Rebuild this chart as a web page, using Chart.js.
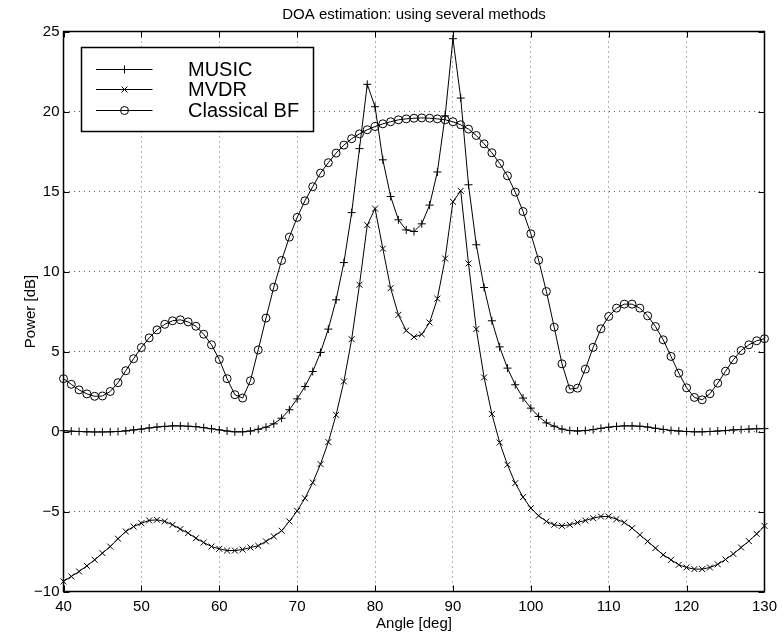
<!DOCTYPE html>
<html>
<head>
<meta charset="utf-8">
<title>DOA estimation</title>
<script src="https://cdn.jsdelivr.net/npm/chart.js@4.4.1/dist/chart.umd.min.js"></script>
<style>
    html, body { margin: 0; padding: 0; background: #fff; }
    #wrap { width: 783px; height: 636px; }
</style>
</head>
<body>
<div id="wrap"><canvas id="doaChart" width="783" height="636"></canvas></div>
<script>
// Chart data
const angles = [
    40, 41, 42, 43, 44, 45, 46, 47, 48, 49,
    50, 51, 52, 53, 54, 55, 56, 57, 58, 59,
    60, 61, 62, 63, 64, 65, 66, 67, 68, 69,
    70, 71, 72, 73, 74, 75, 76, 77, 78, 79,
    80, 81, 82, 83, 84, 85, 86, 87, 88, 89,
    90, 91, 92, 93, 94, 95, 96, 97, 98, 99,
    100, 101, 102, 103, 104, 105, 106, 107, 108, 109,
    110, 111, 112, 113, 114, 115, 116, 117, 118, 119,
    120, 121, 122, 123, 124, 125, 126, 127, 128, 129,
    130
];

const musicDb = [
    0.05, 0.02, 0.0, -0.02, -0.03, -0.03, -0.02, 0.0, 0.04, 0.1,
    0.15, 0.22, 0.28, 0.32, 0.35, 0.35, 0.33, 0.3, 0.24, 0.17,
    0.1, 0.03, -0.02, -0.02, 0.03, 0.14, 0.27, 0.48, 0.83, 1.36,
    2.04, 2.81, 3.75, 4.94, 6.4, 8.23, 10.56, 13.68, 17.68, 21.7,
    20.3, 16.98, 14.69, 13.23, 12.6, 12.5, 12.98, 14.15, 16.22, 19.73,
    24.55, 20.84, 15.42, 11.67, 9.0, 6.92, 5.29, 3.96, 2.92, 2.09,
    1.46, 0.94, 0.54, 0.33, 0.15, 0.06, 0.03, 0.06, 0.12, 0.2,
    0.27, 0.32, 0.35, 0.35, 0.33, 0.28, 0.2, 0.13, 0.07, 0.03,
    0.0, -0.02, -0.02, 0.0, 0.03, 0.06, 0.1, 0.12, 0.15, 0.17,
    0.18
];

const mvdrDb = [
    -9.37, -9.06, -8.75, -8.4, -8.02, -7.6, -7.19, -6.7, -6.25, -5.94,
    -5.73, -5.56, -5.52, -5.62, -5.83, -6.1, -6.35, -6.67, -6.94, -7.19,
    -7.33, -7.44, -7.44, -7.38, -7.25, -7.14, -6.87, -6.56, -6.2, -5.62,
    -4.96, -4.17, -3.19, -2.04, -0.66, 1.04, 3.13, 5.77, 9.17, 12.9,
    13.93, 11.43, 8.96, 7.29, 6.31, 5.9, 6.07, 6.81, 8.3, 10.81,
    14.36, 15.04, 10.5, 6.4, 3.38, 1.09, -0.69, -2.08, -3.23, -4.1,
    -4.79, -5.27, -5.62, -5.83, -5.9, -5.83, -5.69, -5.56, -5.42, -5.31,
    -5.31, -5.48, -5.69, -6.04, -6.46, -6.87, -7.29, -7.71, -8.02, -8.33,
    -8.5, -8.6, -8.6, -8.5, -8.3, -8.0, -7.65, -7.25, -6.85, -6.4,
    -5.9
];

const classicalDb = [
    3.3, 2.95, 2.6, 2.35, 2.2, 2.22, 2.5, 3.05, 3.8, 4.55,
    5.25, 5.85, 6.35, 6.7, 6.92, 6.98, 6.85, 6.58, 6.08, 5.42,
    4.5, 3.3, 2.3, 2.09, 3.17, 5.1, 7.09, 9.02, 10.69, 12.15,
    13.38, 14.42, 15.3, 16.15, 16.8, 17.4, 17.9, 18.3, 18.6, 18.86,
    19.06, 19.23, 19.36, 19.48, 19.54, 19.58, 19.6, 19.58, 19.54, 19.48,
    19.36, 19.17, 18.9, 18.5, 17.98, 17.42, 16.75, 15.98, 14.96, 13.75,
    12.36, 10.71, 8.75, 6.52, 4.23, 2.65, 2.71, 3.9, 5.26, 6.42,
    7.19, 7.71, 7.96, 7.96, 7.71, 7.23, 6.56, 5.73, 4.69, 3.65,
    2.73, 2.13, 1.98, 2.36, 3.02, 3.77, 4.48, 5.06, 5.42, 5.67,
    5.8
];

const seriesNames = ['MUSIC', 'MVDR', 'Classical BF'];
const markerStyles = ['cross', 'crossRot', 'circle'];

const xTicks = [40, 50, 60, 70, 80, 90, 100, 110, 120, 130];
const yTicks = [-10, -5, 0, 5, 10, 15, 20, 25];

const chartTitle = 'DOA estimation: using several methods';
const xTitle = 'Angle [deg]';
const yTitle = 'Power [dB]';

const FONT = '"Liberation Sans", Arial, Helvetica, sans-serif';

// Build points
function toPoints(values) {
    return angles.map((a, i) => ({ x: a, y: values[i] }));
}

function markerRadius(style) {
    return style === 'crossRot' ? 4.2 : 4;
}

function makeDataset(label, values, style) {
    return {
        label: label,
        data: toPoints(values),
        borderColor: '#000',
        borderWidth: 1,
        tension: 0,
        fill: false,
        clip: false,
        pointStyle: style,
        pointRadius: markerRadius(style),
        pointBorderWidth: 1,
        pointBorderColor: '#000',
        pointBackgroundColor: 'rgba(0,0,0,0)'
    };
}

// Matlab-like frame, inward ticks, titles and legend
const matlabFrame = {
    id: 'matlabFrame',
    afterDraw(chart) {
        const ctx = chart.ctx;
        const area = chart.chartArea;
        const xs = chart.scales.x;
        const ys = chart.scales.y;
        const tickLen = 6;

        ctx.save();
        ctx.strokeStyle = '#000';
        ctx.lineWidth = 1;
        ctx.beginPath();
        xTicks.forEach(v => {
            const px = Math.round(xs.getPixelForValue(v)) + 0.5;
            ctx.moveTo(px, area.bottom);
            ctx.lineTo(px, area.bottom - tickLen);
            ctx.moveTo(px, area.top);
            ctx.lineTo(px, area.top + tickLen);
        });
        yTicks.forEach(v => {
            const py = Math.round(ys.getPixelForValue(v)) + 0.5;
            ctx.moveTo(area.left, py);
            ctx.lineTo(area.left + tickLen, py);
            ctx.moveTo(area.right, py);
            ctx.lineTo(area.right - tickLen, py);
        });
        ctx.stroke();

        ctx.lineWidth = 1.5;
        ctx.strokeRect(area.left, area.top, area.right - area.left, area.bottom - area.top);

        // titles
        ctx.fillStyle = '#000';
        ctx.textAlign = 'center';
        ctx.textBaseline = 'middle';
        ctx.font = '15px ' + FONT;
        ctx.fillText(chartTitle, (area.left + area.right) / 2, 15);
        ctx.fillText(xTitle, (area.left + area.right) / 2, 624);
        ctx.save();
        ctx.translate(31, (area.top + area.bottom) / 2);
        ctx.rotate(-Math.PI / 2);
        ctx.fillText(yTitle, 0, 0);
        ctx.restore();

        // legend
        const box = { x: 81.5, y: 47.5, w: 232, h: 84 };
        ctx.fillStyle = '#fff';
        ctx.fillRect(box.x, box.y, box.w, box.h);
        ctx.lineWidth = 1.5;
        ctx.strokeRect(box.x, box.y, box.w, box.h);
        const rows = [69.5, 89.5, 110.5];
        ctx.font = '20px ' + FONT;
        ctx.textAlign = 'left';
        ctx.textBaseline = 'middle';
        seriesNames.forEach((name, i) => {
            const y = rows[i];
            ctx.strokeStyle = '#000';
            ctx.lineWidth = 1;
            ctx.beginPath();
            ctx.moveTo(96, y);
            ctx.lineTo(152.5, y);
            ctx.stroke();
            ctx.fillStyle = 'rgba(0,0,0,0)';
            Chart.helpers.drawPoint(ctx, {
                pointStyle: markerStyles[i],
                radius: markerRadius(markerStyles[i]),
                rotation: 0,
                borderWidth: 1
            }, 124.5, y);
            ctx.fillStyle = '#000';
            ctx.fillText(name, 188, y + 0.5);
        });
        ctx.restore();
    }
};

// Init chart
function initChart() {
    const ctx = document.getElementById('doaChart');
    new Chart(ctx, {
        type: 'line',
        data: {
            datasets: [
                makeDataset(seriesNames[0], musicDb, markerStyles[0]),
                makeDataset(seriesNames[1], mvdrDb, markerStyles[1]),
                makeDataset(seriesNames[2], classicalDb, markerStyles[2])
            ]
        },
        options: {
            responsive: false,
            animation: false,
            devicePixelRatio: 1,
            layout: {
                padding: { top: 31.5, right: 11.5, left: 0, bottom: 0 }
            },
            plugins: {
                legend: { display: false },
                tooltip: { enabled: false },
                title: { display: false }
            },
            scales: {
                x: {
                    type: 'linear',
                    min: 40,
                    max: 130,
                    afterFit: scale => { scale.height = 44.5; },
                    afterBuildTicks: scale => { scale.ticks = xTicks.map(v => ({ value: v })); },
                    ticks: {
                        color: '#000',
                        font: { family: FONT, size: 15 },
                        padding: 6,
                        maxRotation: 0,
                        callback: v => String(v)
                    },
                    grid: {
                        color: '#666',
                        lineWidth: 1,
                        drawTicks: false
                    },
                    border: { display: false, dash: [1, 4] }
                },
                y: {
                    type: 'linear',
                    min: -10,
                    max: 25,
                    afterFit: scale => { scale.width = 63.5; },
                    afterBuildTicks: scale => { scale.ticks = yTicks.map(v => ({ value: v })); },
                    ticks: {
                        color: '#000',
                        font: { family: FONT, size: 15 },
                        padding: 4,
                        callback: v => (v < 0 ? '\u2212' + Math.abs(v) : String(v))
                    },
                    grid: {
                        color: '#666',
                        lineWidth: 1,
                        drawTicks: false
                    },
                    border: { display: false, dash: [1, 4] }
                }
            }
        },
        plugins: [matlabFrame]
    });
}

initChart();
</script>
</body>
</html>
